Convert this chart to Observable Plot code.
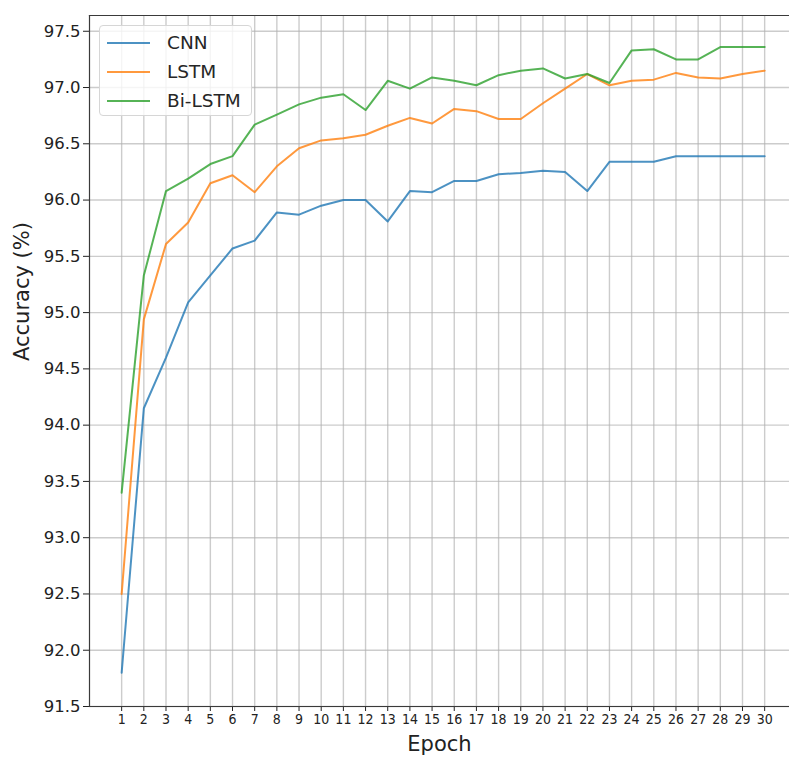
<!DOCTYPE html>
<html>
<head>
<meta charset="utf-8">
<script src="https://cdn.jsdelivr.net/npm/d3@7"></script>
<script src="https://cdn.jsdelivr.net/npm/@observablehq/plot@0.6"></script>
<style>
  html, body { margin: 0; padding: 0; background: #fff; overflow: hidden; }
  #wrap { position: relative; width: 789px; height: 758px; }
  #legend {
    position: absolute; left: 99px; top: 25px; width: 153px; height: 91px;
    box-sizing: border-box; border: 1px solid #d6d6d6; border-radius: 4px;
    background: rgba(255,255,255,0.8);
    font-family: "DejaVu Sans", sans-serif; font-size: 18.5px; color: #262626;
    padding-top: 2px;
  }
  #legend .row { display: flex; align-items: center; height: 29px; }
  #legend svg { margin-left: 7px; margin-right: 17px; }
</style>
</head>
<body>
<div id="wrap">
  <div id="chart"></div>
  <div id="legend"></div>
</div>
<script>
// Test accuracy (%) per training epoch for three models
const epochs = d3.range(1, 31);
const seriesNames = ["CNN", "LSTM", "Bi-LSTM"];
const seriesColors = ["#1f77b4", "#ff7f0e", "#2ca02c"];

const cnn = [91.80, 94.15, 94.60, 95.09, 95.33, 95.57, 95.64, 95.89, 95.87, 95.95,
             96.00, 96.00, 95.81, 96.08, 96.07, 96.17, 96.17, 96.23, 96.24, 96.26,
             96.25, 96.08, 96.34, 96.34, 96.34, 96.39, 96.39, 96.39, 96.39, 96.39];
const lstm = [92.50, 94.94, 95.61, 95.80, 96.15, 96.22, 96.07, 96.30, 96.46, 96.53,
              96.55, 96.58, 96.66, 96.73, 96.68, 96.81, 96.79, 96.72, 96.72, 96.86,
              96.99, 97.12, 97.02, 97.06, 97.07, 97.13, 97.09, 97.08, 97.12, 97.15];
const bilstm = [93.40, 95.33, 96.08, 96.19, 96.32, 96.39, 96.67, 96.76, 96.85, 96.91,
                96.94, 96.80, 97.06, 96.99, 97.09, 97.06, 97.02, 97.11, 97.15, 97.17,
                97.08, 97.12, 97.04, 97.33, 97.34, 97.25, 97.25, 97.36, 97.36, 97.36];

const yTicks = d3.range(91.5, 97.51, 0.5);

const rows = [cnn, lstm, bilstm].flatMap((vals, i) =>
  vals.map((v, j) => ({model: seriesNames[i], epoch: epochs[j], acc: v}))
);

const font = "DejaVu Sans, sans-serif";

const chart = Plot.plot({
  width: 789,
  height: 758,
  marginLeft: 89,
  marginRight: 0,
  marginTop: 15,
  marginBottom: 52,
  style: {background: "#fff", color: "#222"},
  x: {domain: [-0.45, 31.12]},
  y: {domain: [91.5, 97.64]},
  color: {domain: seriesNames, range: seriesColors},
  marks: [
    Plot.gridX(epochs, {stroke: "#b0b0b0", strokeOpacity: 0.65, strokeWidth: 1.4}),
    Plot.gridY(yTicks, {stroke: "#b0b0b0", strokeOpacity: 0.65, strokeWidth: 1.4}),
    Plot.line(rows, {x: "epoch", y: "acc", z: "model", stroke: "model",
                     strokeWidth: 2, strokeOpacity: 0.8}),
    Plot.axisX({ticks: epochs, tickSize: 5, tickPadding: 3, label: null,
                fontSize: 14, fontFamily: "DejaVu Sans Condensed, DejaVu Sans, sans-serif"}),
    Plot.axisY({ticks: yTicks, tickSize: 6, tickPadding: 3, label: null,
                tickFormat: d3.format(".1f"), fontSize: 16.5, fontFamily: font}),
    // spines: left, top and bottom (right edge lies past the page)
    Plot.frame({anchor: "left", stroke: "#3a3a3a", strokeWidth: 1.2}),
    Plot.frame({anchor: "top", stroke: "#3a3a3a", strokeWidth: 1.2}),
    Plot.frame({anchor: "bottom", stroke: "#3a3a3a", strokeWidth: 1.2}),
    Plot.text(["Epoch"], {frameAnchor: "bottom", dy: 44, fontSize: 21, fontFamily: font, fill: "#222"}),
    Plot.text(["Accuracy (%)"], {frameAnchor: "left", dx: -67, rotate: -90, fontSize: 21,
                                  fontFamily: font, fill: "#222"})
  ]
});
document.getElementById("chart").appendChild(chart);

// legend with line swatches
const legend = document.getElementById("legend");
seriesNames.forEach((name, i) => {
  const row = document.createElement("div");
  row.className = "row";
  row.innerHTML = `<svg width="43" height="10"><line x1="0" x2="43" y1="5" y2="5" stroke="${seriesColors[i]}" stroke-opacity="0.8" stroke-width="2"/></svg><span>${name}</span>`;
  legend.appendChild(row);
});
</script>
</body>
</html>
